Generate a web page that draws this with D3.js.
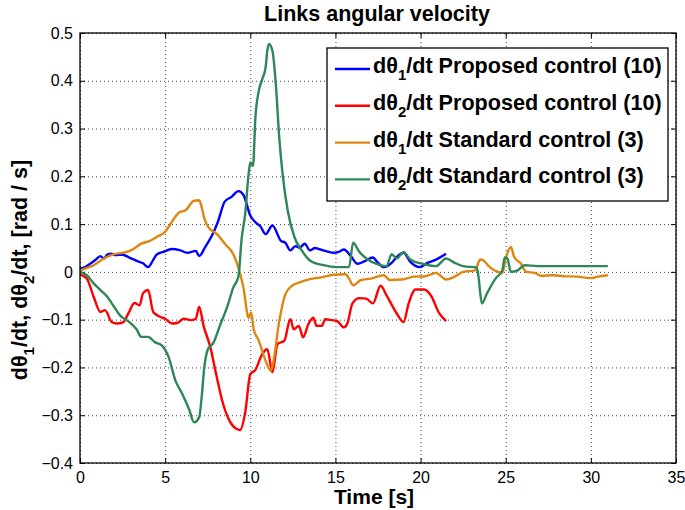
<!DOCTYPE html>
<html>
<head>
<meta charset="utf-8">
<script src="https://cdn.jsdelivr.net/npm/d3@7"></script>
<style>
  body { margin: 0; background: #fff; }
  text { font-family: "Liberation Sans", Arial, Helvetica, sans-serif; }
</style>
</head>
<body>
<div id="chart"></div>
<script>
(function() {
  // series: [time (s), angular velocity (rad/s)]
  var proposed1 = [[0,0.007],[0.3,0.01],[0.6,0.017],[0.9,0.025],[1.2,0.033],[1.4,0.028],[1.6,0.036],[1.86,0.038],[2.1,0.035],[2.5,0.036],[2.9,0.03],[3.4,0.022],[3.7,0.018],[4.0,0.01],[4.3,0.025],[4.5,0.036],[4.9,0.042],[5.4,0.048],[5.9,0.045],[6.3,0.04],[6.8,0.044],[7.0,0.033],[7.35,0.052],[7.75,0.076],[8.1,0.105],[8.5,0.147],[8.9,0.157],[9.3,0.169],[9.6,0.161],[10.0,0.118],[10.3,0.104],[10.6,0.095],[10.9,0.079],[11.3,0.097],[11.8,0.065],[12.06,0.061],[12.35,0.045],[12.65,0.054],[12.9,0.051],[13.2,0.059],[13.5,0.045],[13.8,0.05],[14.1,0.047],[14.5,0.043],[14.9,0.04],[15.2,0.042],[15.5,0.047],[15.9,0.033],[16.3,0.017],[16.7,0.022],[17.2,0.03],[17.45,0.021],[17.85,0.01],[18.3,0.019],[18.6,0.031],[19.0,0.04],[19.4,0.021],[19.96,0.01],[20.4,0.019],[20.8,0.024],[21.5,0.038]];

  var proposed2 = [[0,-0.005],[0.4,-0.014],[0.8,-0.052],[1.2,-0.084],[1.47,-0.08],[1.86,-0.105],[2.16,-0.108],[2.55,-0.105],[2.84,-0.087],[3.2,-0.065],[3.5,-0.07],[3.7,-0.045],[4.0,-0.038],[4.3,-0.084],[4.7,-0.094],[5.0,-0.098],[5.4,-0.108],[5.7,-0.107],[6.1,-0.098],[6.5,-0.101],[6.8,-0.098],[7.0,-0.073],[7.25,-0.112],[7.65,-0.157],[8.0,-0.215],[8.4,-0.276],[8.8,-0.313],[9.2,-0.329],[9.4,-0.331],[9.7,-0.295],[10.0,-0.214],[10.3,-0.205],[10.7,-0.172],[11.0,-0.162],[11.3,-0.21],[11.6,-0.151],[12.0,-0.144],[12.35,-0.099],[12.55,-0.12],[12.85,-0.113],[13.1,-0.137],[13.4,-0.11],[13.7,-0.096],[13.9,-0.113],[14.2,-0.113],[14.4,-0.099],[14.8,-0.101],[15.1,-0.103],[15.5,-0.116],[15.7,-0.108],[16.0,-0.066],[16.4,-0.055],[16.8,-0.056],[17.2,-0.066],[17.65,-0.029],[18.0,-0.049],[18.6,-0.087],[19.0,-0.105],[19.3,-0.066],[19.7,-0.037],[20.2,-0.037],[20.6,-0.049],[21.1,-0.087],[21.5,-0.103]];

  var standard1 = [[0,0.003],[0.3,0.007],[0.8,0.014],[1.4,0.028],[2.0,0.037],[2.55,0.04],[3.0,0.045],[3.6,0.059],[4.1,0.065],[4.5,0.073],[5.0,0.084],[5.4,0.105],[5.8,0.124],[6.2,0.129],[6.7,0.149],[7.0,0.15],[7.15,0.135],[7.3,0.112],[7.55,0.093],[8.04,0.079],[8.53,0.058],[9.0,0.037],[9.3,0.009],[9.6,-0.033],[9.9,-0.096],[10.05,-0.085],[10.2,-0.12],[10.5,-0.144],[10.9,-0.186],[11.2,-0.207],[11.33,-0.193],[11.7,-0.103],[12.06,-0.047],[12.45,-0.029],[12.9,-0.022],[13.5,-0.015],[14.1,-0.012],[14.9,-0.006],[15.6,-0.005],[15.8,-0.014],[16.04,-0.028],[16.5,-0.017],[17.06,-0.014],[17.84,-0.007],[18.2,-0.017],[18.9,-0.016],[19.6,-0.01],[20.3,-0.009],[20.9,-0.002],[21.5,-0.016],[22.0,-0.01],[22.5,0],[23.2,0.003],[23.5,0.026],[23.7,0.024],[24.0,0.012],[24.4,0.002],[24.8,-0.002],[25.0,0.028],[25.3,0.052],[25.5,0.031],[25.9,0.017],[26.2,0],[26.7,-0.002],[27.06,-0.008],[27.8,-0.007],[28.4,-0.009],[29.2,-0.01],[30.0,-0.013],[30.4,-0.01],[31.0,-0.007]];

  var standard2 = [[0,0],[0.4,-0.007],[0.8,-0.024],[1.2,-0.038],[1.6,-0.052],[2.0,-0.073],[2.35,-0.091],[2.9,-0.105],[3.3,-0.119],[3.6,-0.136],[4.0,-0.136],[4.4,-0.147],[4.8,-0.154],[5.2,-0.178],[5.6,-0.227],[6.0,-0.255],[6.4,-0.287],[6.7,-0.315],[7.0,-0.304],[7.15,-0.26],[7.3,-0.2],[7.5,-0.163],[7.84,-0.148],[8.24,-0.11],[8.63,-0.075],[9.0,-0.033],[9.3,-0.01],[9.5,0.072],[9.7,0.121],[9.9,0.204],[10.0,0.229],[10.16,0.222],[10.3,0.323],[10.5,0.379],[10.7,0.403],[10.9,0.428],[11.0,0.463],[11.1,0.477],[11.3,0.463],[11.5,0.393],[11.7,0.281],[11.9,0.204],[12.2,0.128],[12.6,0.072],[13.04,0.044],[13.5,0.024],[14.3,0.014],[15.1,0.01],[15.8,0.01],[16.04,0.061],[16.4,0.042],[16.9,0.026],[17.45,0.016],[18.0,0.012],[18.3,0.037],[18.6,0.028],[19.0,0.041],[19.4,0.026],[20.1,0.017],[20.9,0.012],[21.5,0.028],[22.0,0.019],[22.5,0.012],[23.3,0.009],[23.4,-0.01],[23.6,-0.066],[23.9,-0.045],[24.4,-0.014],[24.8,0.003],[24.94,0.03],[25.1,0.028],[25.3,0],[25.7,0.003],[26.1,0.014],[26.9,0.012],[31.0,0.012]];

  var xTicks = [0, 5, 10, 15, 20, 25, 30, 35];
  var yTicks = [-0.4, -0.3, -0.2, -0.1, 0, 0.1, 0.2, 0.3, 0.4, 0.5];
  var seriesNames = ["Proposed control (10)", "Proposed control (10)", "Standard control (3)", "Standard control (3)"];
  var seriesSubs = ["1", "2", "1", "2"];
  var seriesColors = ["#0000ff", "#ff0000", "#dd8712", "#2e8757"];
  var seriesData = [proposed1, proposed2, standard1, standard2];

  var margin = { top: 33, left: 80, right: 9, bottom: 47 },
    width = 685 - margin.left - margin.right,
    height = 510 - margin.top - margin.bottom;

  var root = d3.select("#chart")
    .append("svg")
    .attr("width", 685)
    .attr("height", 510);

  root.append("rect").attr("width", 685).attr("height", 510).attr("fill", "#fff");

  var svg = root.append("g")
    .attr("transform", "translate(" + margin.left + "," + margin.top + ")");

  var xScale = d3.scaleLinear().domain([0, 35]).range([0, width]);
  var yScale = d3.scaleLinear().domain([-0.4, 0.5]).range([height, 0]);

  // dotted grid
  svg.append("g")
    .attr("class", "grid")
    .attr("transform", "translate(0," + height + ")")
    .call(d3.axisBottom(xScale).tickValues(xTicks).tickSize(-height).tickFormat(""));
  svg.append("g")
    .attr("class", "grid")
    .call(d3.axisLeft(yScale).tickValues(yTicks).tickSize(-width).tickFormat(""));
  svg.selectAll(".grid .domain").remove();
  svg.selectAll(".grid line")
    .attr("stroke", "#444")
    .attr("stroke-width", 1)
    .attr("stroke-dasharray", "1,3");

  var fmt = function(d) { return d === 0 ? "0" : d3.format(".1f")(d); };

  svg.append("g")
    .attr("transform", "translate(0," + height + ")")
    .call(d3.axisBottom(xScale).tickValues(xTicks).tickSize(-5).tickPadding(9));
  svg.append("g")
    .call(d3.axisLeft(yScale).tickValues(yTicks).tickFormat(fmt).tickSize(-5).tickPadding(7));
  svg.append("g")
    .call(d3.axisTop(xScale).tickValues(xTicks).tickSize(-5).tickFormat(""));
  svg.append("g")
    .attr("transform", "translate(" + width + ",0)")
    .call(d3.axisRight(yScale).tickValues(yTicks).tickSize(-5).tickFormat(""));

  svg.selectAll(".domain").attr("stroke", "none");
  svg.selectAll(".tick text")
    .attr("font-size", 16)
    .attr("font-family", "Liberation Sans, Arial, sans-serif")
    .attr("fill", "#000");

  var line = d3.line()
    .curve(d3.curveMonotoneX)
    .x(function(d) { return xScale(d[0]); })
    .y(function(d) { return yScale(d[1]); });

  svg.selectAll(".series")
    .data(seriesData)
    .enter().append("path")
    .attr("class", "series")
    .attr("d", line)
    .attr("fill", "none")
    .attr("stroke", function(d, i) { return seriesColors[i]; })
    .attr("stroke-width", 2.4)
    .attr("stroke-linejoin", "round");

  // frame
  svg.append("rect")
    .attr("width", width)
    .attr("height", height)
    .attr("fill", "none")
    .attr("stroke", "#000")
    .attr("stroke-width", 1.3);

  // legend
  var legend = root.append("g").attr("transform", "translate(327,48)");
  legend.append("rect")
    .attr("width", 341)
    .attr("height", 153)
    .attr("fill", "#fff")
    .attr("stroke", "#000")
    .attr("stroke-width", 1.3);

  var item = legend.selectAll(".item")
    .data(seriesNames)
    .enter().append("g")
    .attr("class", "item")
    .attr("transform", function(d, i) { return "translate(0," + (21 + i * 36.8) + ")"; });

  item.append("line")
    .attr("x1", 8).attr("x2", 43)
    .attr("stroke", function(d, i) { return seriesColors[i]; })
    .attr("stroke-width", 2.4);

  var itemText = item.append("text")
    .attr("x", 46)
    .attr("y", 4)
    .attr("font-size", 21.6)
    .attr("font-weight", "bold");
  itemText.append("tspan").text("dθ");
  itemText.append("tspan").attr("font-size", 15).attr("dy", 7).text(function(d, i) { return seriesSubs[i]; });
  itemText.append("tspan").attr("dy", -7).text(function(d) { return "/dt " + d; });

  // title and axis labels
  root.append("text")
    .attr("x", 377)
    .attr("y", 21)
    .attr("text-anchor", "middle")
    .attr("font-size", 21.5)
    .attr("font-weight", "bold")
    .text("Links angular velocity");

  root.append("text")
    .attr("x", 374)
    .attr("y", 504)
    .attr("text-anchor", "middle")
    .attr("font-size", 21)
    .attr("font-weight", "bold")
    .text("Time [s]");

  var yLabel = root.append("text")
    .attr("transform", "translate(27,270) rotate(-90)")
    .attr("text-anchor", "middle")
    .attr("font-size", 21.5)
    .attr("font-weight", "bold");
  yLabel.append("tspan").text("dθ");
  yLabel.append("tspan").attr("font-size", 15).attr("dy", 7).text("1");
  yLabel.append("tspan").attr("dy", -7).text("/dt, dθ");
  yLabel.append("tspan").attr("font-size", 15).attr("dy", 7).text("2");
  yLabel.append("tspan").attr("dy", -7).text("/dt, [rad / s]");
})();
</script>
</body>
</html>
